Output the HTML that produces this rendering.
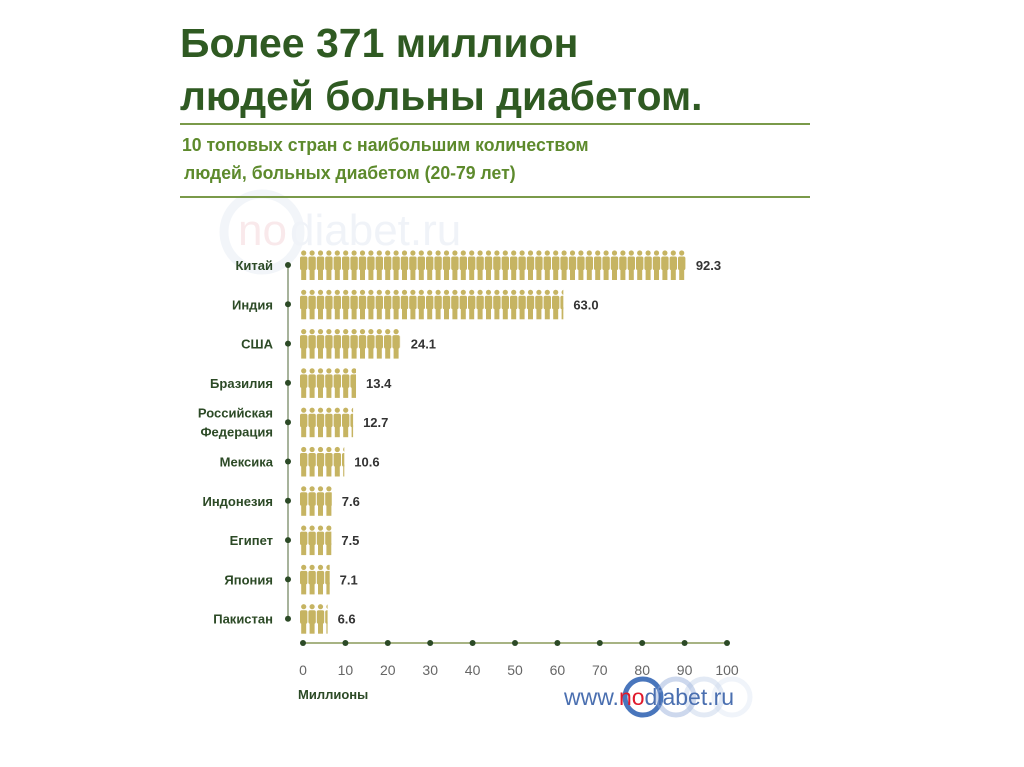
<!DOCTYPE html>
<html><head><meta charset="utf-8">
<style>
body{margin:0;background:#fff;width:1024px;height:767px;overflow:hidden;font-family:"Liberation Sans",sans-serif;}
.t{position:absolute;left:180px;color:#2f5a22;font-weight:bold;font-size:41px;line-height:1;white-space:nowrap;transform-origin:left top}
.s{position:absolute;left:182px;color:#5d8a2c;font-weight:bold;font-size:18px;white-space:nowrap;transform-origin:left top;transform:scaleX(0.98)}
.hr{position:absolute;left:180px;width:630px;height:2px;background:#7a9a4a}
</style></head><body>
<svg id="c" width="1024" height="767" style="position:absolute;left:0;top:0">
<g opacity="0.5">
<circle cx="262" cy="232" r="38" fill="none" stroke="#e6ecf4" stroke-width="9"/>
<text x="238" y="245" font-size="44" fill="#f4d4d8" font-family="Liberation Sans">no</text>
<text x="290" y="245" font-size="44" fill="#e2e9f3" font-family="Liberation Sans">diabet.ru</text>
</g>
</svg>
<div class="t" style="top:23px;transform:scaleX(1.0)">Более 371 миллион</div>
<div class="t" style="top:76px;transform:scaleX(0.995)">людей больны диабетом.</div>
<div class="hr" style="top:123px"></div>
<div class="s" style="top:135px">10 топовых стран с наибольшим количеством</div>
<div class="s" style="top:163px;left:184px">людей, больных диабетом (20-79 лет)</div>
<div class="hr" style="top:196px"></div>
<script>
const countries=["Китай","Индия","США","Бразилия","Российская|Федерация","Мексика","Индонезия","Египет","Япония","Пакистан"];
const values=[92.3,63.0,24.1,13.4,12.7,10.6,7.6,7.5,7.1,6.6];
const ticks=[0,10,20,30,40,50,60,70,80,90,100];
const svg=document.getElementById('c');const NS='http://www.w3.org/2000/svg';
const x=v=>303+v*4.24;
const bx=v=>300+v*4.18;
const y=i=>265+i*39.3;
function el(t,a,p){const e=document.createElementNS(NS,t);for(const k in a)e.setAttribute(k,a[k]);(p||svg).appendChild(e);return e;}
const vax=el('line',{x1:288,y1:265,x2:288,y2:y(9),stroke:'#8a9a7a','stroke-width':1.5});

const C='#c6b462';
values.forEach((v,i)=>{
  const cy=y(i);
  const g=el('g',{});
  
  const cp=el('clipPath',{id:'cp'+i},g);
  el('rect',{x:300,y:cy-17,width:Math.max(0,bx(v)-300),height:34},cp);
  const gg=el('g',{'clip-path':'url(#cp'+i+')'},g);
  for(let k=0;k<50;k++){const px=300+k*8.4;
    el('circle',{cx:px+3.7,cy:cy-12,r:2.6,fill:C},gg);
    el('rect',{x:px,y:cy-8.5,width:7.4,height:13.5,rx:1.8,fill:C},gg);
    el('rect',{x:px+1.2,y:cy+3,width:5,height:12,fill:C},gg);}
  const d=el('circle',{cx:288,cy:cy,r:3,fill:'#2c4a26'});
  
  const parts=countries[i].split('|');
  parts.forEach((p,j)=>{const t=el('text',{x:273,y:cy+5+(parts.length>1?(j-0.5)*19:0),'text-anchor':'end','font-size':13,'font-weight':'bold',fill:'#2c4a26'});t.textContent=p;
    });
  const vt=el('text',{x:bx(v)+10,y:cy+5,'font-size':13,'font-weight':'bold',fill:'#333'});vt.textContent=values[i].toFixed(1);
  
});
const ax=el('line',{x1:x(0),y1:643,x2:x(100),y2:643,stroke:'#8a9a5a','stroke-width':1.5});

ticks.forEach(t=>{el('circle',{cx:x(t),cy:643,r:3,fill:'#2c4a26'});
  const tt=el('text',{x:x(t),y:675,'text-anchor':'middle','font-size':14,fill:'#666'});tt.textContent=t;
  });
const xt=el('text',{x:298,y:699,'font-size':13,'font-weight':'bold',fill:'#2c4a26'});xt.textContent='Миллионы';

// logo
[[643,0.95,'#3f6fb8',5],[676,0.45,'#90a9d6',5],[704,0.35,'#b0c2e2',5],[732,0.25,'#c5d3ea',5]].forEach(([cx,o,c,w])=>el('circle',{cx:cx,cy:697,r:18,fill:'none',stroke:c,'stroke-width':w,opacity:o}));
const lg=el('text',{x:564,y:705,'font-size':23,fill:'#4a6fb0'});

lg.innerHTML='www.<tspan fill="#e0192b">no</tspan>diabet.ru';
</script>
</body></html>
